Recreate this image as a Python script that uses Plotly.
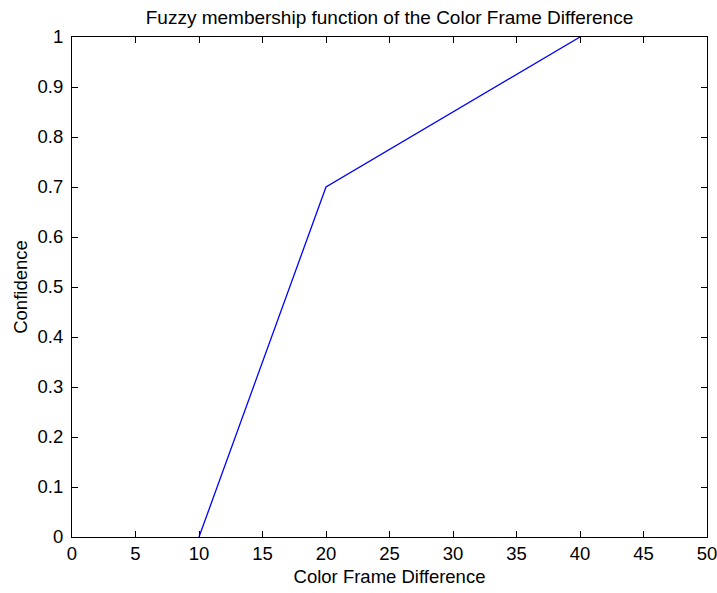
import plotly.graph_objects as go

x_vals = [10, 20, 40]
y_vals = [0, 0.7, 1]
x_ticks = [0, 5, 10, 15, 20, 25, 30, 35, 40, 45, 50]
y_ticks = [0, 0.1, 0.2, 0.3, 0.4, 0.5, 0.6, 0.7, 0.8, 0.9, 1]
y_tick_text = ["0", "0.1", "0.2", "0.3", "0.4", "0.5", "0.6", "0.7", "0.8", "0.9", "1"]

font = dict(family="Liberation Sans, Arial, sans-serif", size=18.5, color="black")
title_font = dict(family="Liberation Sans, Arial, sans-serif", size=19, color="black")

fig = go.Figure()
fig.add_trace(go.Scatter(x=x_vals, y=y_vals, mode="lines",
                         line=dict(color="#0000ff", width=1.3), showlegend=False))

axis_common = dict(showline=True, linecolor="black", linewidth=1, mirror="ticks",
                   ticks="inside", ticklen=6, tickcolor="black", tickwidth=1,
                   showgrid=False, zeroline=False, tickfont=font)

W, H = 717, 593
L, R, T, B = 72, 10, 37, 56
fig.update_layout(
    width=W, height=H,
    margin=dict(l=L, r=R, t=T, b=B, autoexpand=False),
    paper_bgcolor="white", plot_bgcolor="white",
    font=font,
    title=dict(text="Fuzzy membership function of the Color Frame Difference",
               x=(L + W - R) / 2 / W, xanchor="center", y=1 - 17 / H, yanchor="middle",
               font=title_font),
    xaxis=dict(range=[0, 50], tickvals=x_ticks, automargin=False,
               title=dict(text="Color Frame Difference", font=font, standoff=6),
               ticklabelstandoff=0, ticklabeloverflow="allow", **axis_common),
    yaxis=dict(range=[0, 1], tickvals=y_ticks, ticktext=y_tick_text, automargin=False,
               title=dict(text="Confidence", font=font, standoff=5),
               ticklabelstandoff=4, ticklabeloverflow="allow", **axis_common),
)

fig.write_html("out.html", config={"responsive": False, "displayModeBar": False},
               post_script="document.body.style.margin='0';document.documentElement.style.overflow='hidden';")
